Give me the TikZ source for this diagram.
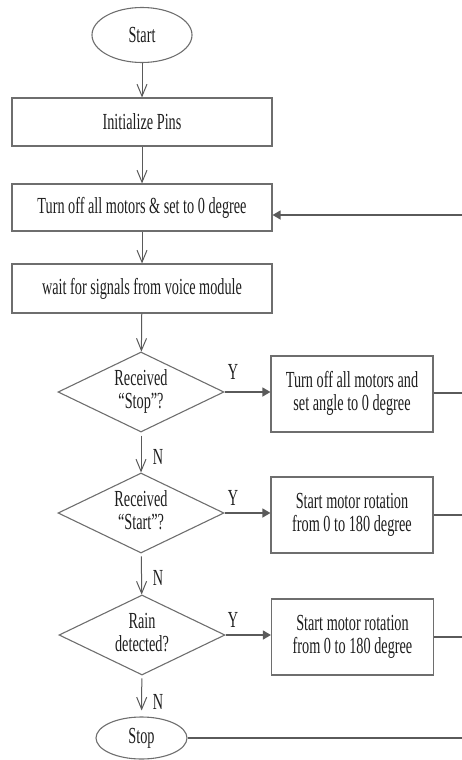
\documentclass[tikz,border=0pt]{standalone}
\usepackage{fontspec}
\setmainfont{Liberation Serif}
\usepackage{graphicx}
\usetikzlibrary{shapes.geometric,arrows.meta}
\definecolor{edge}{HTML}{6E6E6E}
\definecolor{conn}{HTML}{5A5A5A}
\definecolor{txt}{HTML}{1E1E1E}
\newcommand\sqz[1]{\scalebox{0.62}[1]{#1}}
\newcommand\twol[2]{\sqz{\begin{tabular}{@{}c@{}}#1\\#2\end{tabular}}}
\begin{document}
\begin{tikzpicture}[x=1pt,y=-1pt,
  every node/.style={text=txt, font=\fontsize{23}{23}\selectfont},
  proc/.style={draw=edge, line width=1.1pt, inner sep=0pt, minimum width=260pt},
  term/.style={ellipse, draw=edge, line width=1.1pt, inner sep=0pt},
  dec/.style={diamond, draw=edge, line width=1.1pt, inner sep=0pt, minimum width=166pt, minimum height=80pt},
  side/.style={draw=edge, line width=1.1pt, inner sep=0pt, minimum width=162pt, minimum height=76pt},
  flow/.style={draw=conn, line width=1pt, -{Straight Barb[length=12pt,width=10pt]}},
  yes/.style={draw=conn, line width=1.3pt, -{Triangle[length=8pt,width=9pt]}},
  back/.style={draw=conn, line width=1.2pt},
  lab/.style={inner sep=0pt}
]
\useasboundingbox (0,0) rectangle (462,760);

% main column
\node[term, minimum width=100pt, minimum height=55pt] (start) at (142,35) {\sqz{Start}};
\node[proc, minimum height=48pt] (init) at (142,122) {\sqz{Initialize Pins}};
\node[proc, minimum height=47pt] (off) at (142,207.5) {\sqz{Turn off all motors \& set to 0 degree}};
\node[proc, minimum height=49pt] (wait) at (142,288.5) {\sqz{wait for signals from voice module}};
\node[dec, label={[lab]center:{\twol{Received}{“Stop”?}}}] (d1) at (141,392) {};
\node[dec, label={[lab]center:{\twol{Received}{“Start”?}}}] (d2) at (141,513) {};
\node[dec, label={[lab]center:{\twol{Rain}{detected?}}}] (d3) at (142,635) {};
\node[term, minimum width=91pt, minimum height=42pt] (stop) at (141.5,738) {\sqz{Stop}};

% side boxes
\node[side] (b1) at (352,394) {\twol{Turn off all motors and}{set angle to 0 degree}};
\node[side] (b2) at (352,515) {\twol{Start motor rotation}{from 0 to 180 degree}};
\node[side] (b3) at (352.5,637) {\twol{Start motor rotation}{from 0 to 180 degree}};

% labels
\node[lab] (y1) at (233,372) {\sqz{Y}};
\node[lab] (y2) at (233,498) {\sqz{Y}};
\node[lab] (y3) at (233,620) {\sqz{Y}};
\node[lab] (n1) at (158,457) {\sqz{N}};
\node[lab] (n2) at (158,578) {\sqz{N}};
\node[lab] (n3) at (158,702) {\sqz{N}};

% edge coordinates
\coordinate (r0) at (462,215);
\coordinate (e1) at (462,393);
\coordinate (e2) at (462,515);
\coordinate (e3) at (462,637);
\coordinate (e4) at (462,738);

% vertical flow
\draw[flow] (start) -- (init);
\draw[flow] (init) -- (off);
\draw[flow] (off) -- (wait);
\draw[flow] (wait) -- (d1);
\draw[flow, shorten <=3pt] (d1) -- (d2);
\draw[flow, shorten <=3pt] (d2) -- (d3);
\draw[flow, shorten <=3pt, shorten >=6pt] (d3) -- (stop);

% yes branches
\draw[yes] (d1.east) -- (d1.east -| b1.west);
\draw[yes] (d2.east) -- (d2.east -| b2.west);
\draw[yes] (d3.east) -- (d3.east -| b3.west);

% lines to the right edge
\draw[back] (b1.east |- e1) -- (e1);
\draw[back] (b2.east |- e2) -- (e2);
\draw[back] (b3.east |- e3) -- (e3);
\draw[back] (stop.east) -- (e4);
\draw[yes] (r0) -- (off.east |- r0);
\end{tikzpicture}
\end{document}
